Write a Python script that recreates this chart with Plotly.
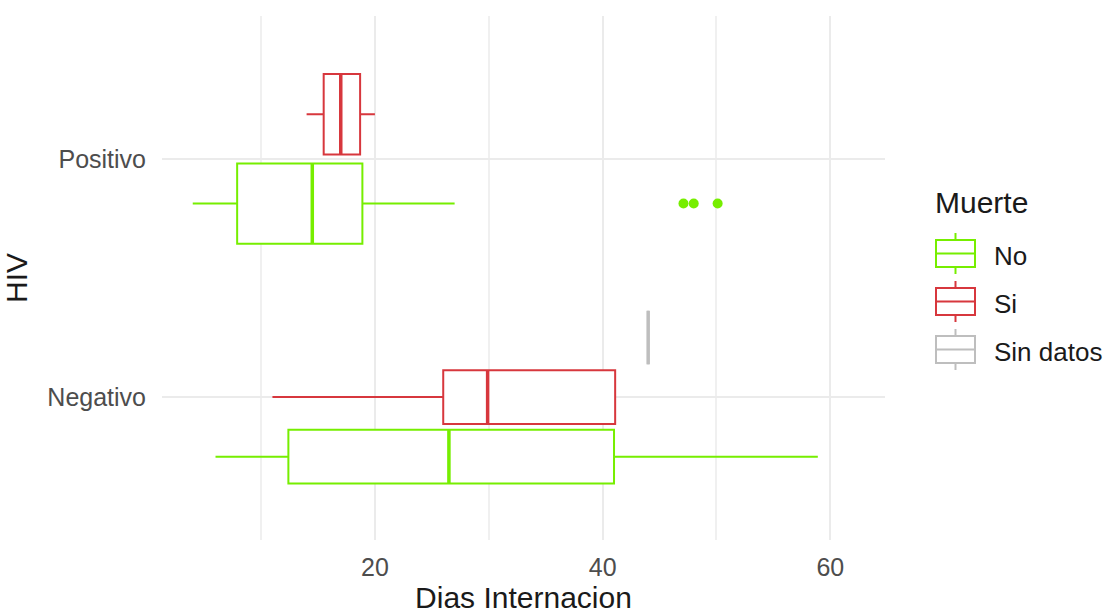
import plotly.graph_objects as go

# ---- data ----
categories = ["Negativo", "Positivo"]
groups = ["No", "Si", "Sin datos"]

no_lower = [6.0, 4.0]
no_q1 = [12.4, 7.9]
no_median = [26.5, 14.5]
no_q3 = [41.0, 18.9]
no_upper = [58.9, 27.0]
no_outliers = [[], [47.1, 48.0, 50.1]]

si_lower = [11.0, 14.0]
si_q1 = [26.0, 15.5]
si_median = [29.9, 17.0]
si_q3 = [41.1, 18.7]
si_upper = [41.1, 20.0]
si_outliers = [[], []]

sd_lower = [44.0, None]
sd_q1 = [44.0, None]
sd_median = [44.0, None]
sd_q3 = [44.0, None]
sd_upper = [44.0, None]
sd_outliers = [[], []]

# ---- styles ----
colors = {"No": "#76EE00", "Si": "#D7373D", "Sin datos": "#BEBEBE"}
stats = {
    "No": (no_lower, no_q1, no_median, no_q3, no_upper, no_outliers),
    "Si": (si_lower, si_q1, si_median, si_q3, si_upper, si_outliers),
    "Sin datos": (sd_lower, sd_q1, sd_median, sd_q3, sd_upper, sd_outliers),
}
FONT = "Liberation Sans, Arial, sans-serif"
W, H = 1107, 616
ML, MR, MT, MB = 162, 222, 16, 76
PW, PH = W - ML - MR, H - MT - MB


def px(xp):
    return (xp - ML) / PW


def py(yp):
    return (H - MB - yp) / PH


fig = go.Figure()


# dodge positions (ggplot-like position_dodge2)
def dodge(ci, g):
    present = [gg for gg in groups if stats[gg][2][ci] is not None]
    n = len(present)
    i = present.index(g)
    slot = 0.75 / n
    center = (ci + 1) - 0.375 + (i + 0.5) * slot
    return center, slot * 0.9


for g in groups:
    lo, q1, med, q3, hi, outl = stats[g]
    for ci, cat in enumerate(categories):
        if med[ci] is None:
            continue
        pos, w = dodge(ci, g)
        c = colors[g]
        fig.add_trace(go.Box(
            y=[pos], q1=[q1[ci]], median=[med[ci]], q3=[q3[ci]],
            lowerfence=[lo[ci]], upperfence=[hi[ci]],
            orientation="h", width=w, fillcolor="white",
            line=dict(color=c, width=2), whiskerwidth=0, boxpoints=False,
            name=g, legendgroup=g, showlegend=False, hoverinfo="x",
        ))
        fig.add_trace(go.Scatter(
            x=[med[ci], med[ci]], y=[pos - w / 2, pos + w / 2], mode="lines",
            line=dict(color=c, width=3.5), showlegend=False,
            legendgroup=g, hoverinfo="skip",
        ))
        if outl[ci]:
            fig.add_trace(go.Scatter(
                x=outl[ci], y=[pos] * len(outl[ci]), mode="markers",
                marker=dict(color=c, size=10), showlegend=False,
                legendgroup=g, hoverinfo="x",
            ))

# ---- custom legend (ggplot-style box keys) ----
shapes = []
annotations = [dict(
    text="Muerte", x=px(933), y=py(203), xref="paper", yref="paper",
    xanchor="left", yanchor="middle", showarrow=False,
    font=dict(size=30, color="#1A1A1A", family=FONT),
)]
key_x0, key_x1 = 936, 975
for i, g in enumerate(groups):
    cy = 253.5 + 48 * i
    c = colors[g]
    shapes.append(dict(type="rect", xref="paper", yref="paper",
                       x0=px(key_x0), x1=px(key_x1), y0=py(cy - 13.5), y1=py(cy + 13.5),
                       line=dict(color=c, width=2), fillcolor="white"))
    shapes.append(dict(type="line", xref="paper", yref="paper",
                       x0=px(key_x0), x1=px(key_x1), y0=py(cy), y1=py(cy),
                       line=dict(color=c, width=2)))
    xm = (key_x0 + key_x1) / 2
    shapes.append(dict(type="line", xref="paper", yref="paper",
                       x0=px(xm), x1=px(xm), y0=py(cy - 13.5), y1=py(cy - 20.5),
                       line=dict(color=c, width=2)))
    shapes.append(dict(type="line", xref="paper", yref="paper",
                       x0=px(xm), x1=px(xm), y0=py(cy + 13.5), y1=py(cy + 20.5),
                       line=dict(color=c, width=2)))
    annotations.append(dict(
        text=g, x=px(992), y=py(cy + 2), xref="paper", yref="paper",
        xanchor="left", yanchor="middle", showarrow=False,
        font=dict(size=26, color="#1A1A1A", family=FONT),
    ))

fig.update_layout(
    width=W, height=H,
    margin=dict(l=ML, r=MR, t=MT, b=MB, autoexpand=False),
    paper_bgcolor="white", plot_bgcolor="white",
    font=dict(family=FONT, color="#4D4D4D"),
    showlegend=False,
    shapes=shapes,
    annotations=annotations,
    xaxis=dict(
        title=dict(text="Dias Internacion", font=dict(size=30, color="#1A1A1A"), standoff=4),
        range=[1.3, 64.8], tickmode="linear", tick0=0, dtick=20,
        tickfont=dict(size=25, color="#4D4D4D"),
        ticks="outside", ticklen=5, tickcolor="rgba(0,0,0,0)",
        showgrid=True, gridcolor="#EBEBEB", gridwidth=2,
        minor=dict(tickmode="linear", tick0=0, dtick=10, showgrid=True,
                   gridcolor="#F0F0F0", gridwidth=1.5),
        zeroline=False, showline=False, automargin=False,
    ),
    yaxis=dict(
        title=dict(text="HIV", font=dict(size=30, color="#1A1A1A"), standoff=10),
        range=[0.4, 2.6], tickmode="array", tickvals=[1, 2], ticktext=categories,
        tickfont=dict(size=25, color="#4D4D4D"),
        ticks="outside", ticklen=10, tickcolor="rgba(0,0,0,0)",
        showgrid=True, gridcolor="#EBEBEB", gridwidth=2,
        zeroline=False, showline=False, automargin=False,
    ),
)

fig.write_html(
    "out.html",
    config={"displayModeBar": False},
    post_script="document.body.style.margin='0';document.body.style.overflow='hidden';",
)
